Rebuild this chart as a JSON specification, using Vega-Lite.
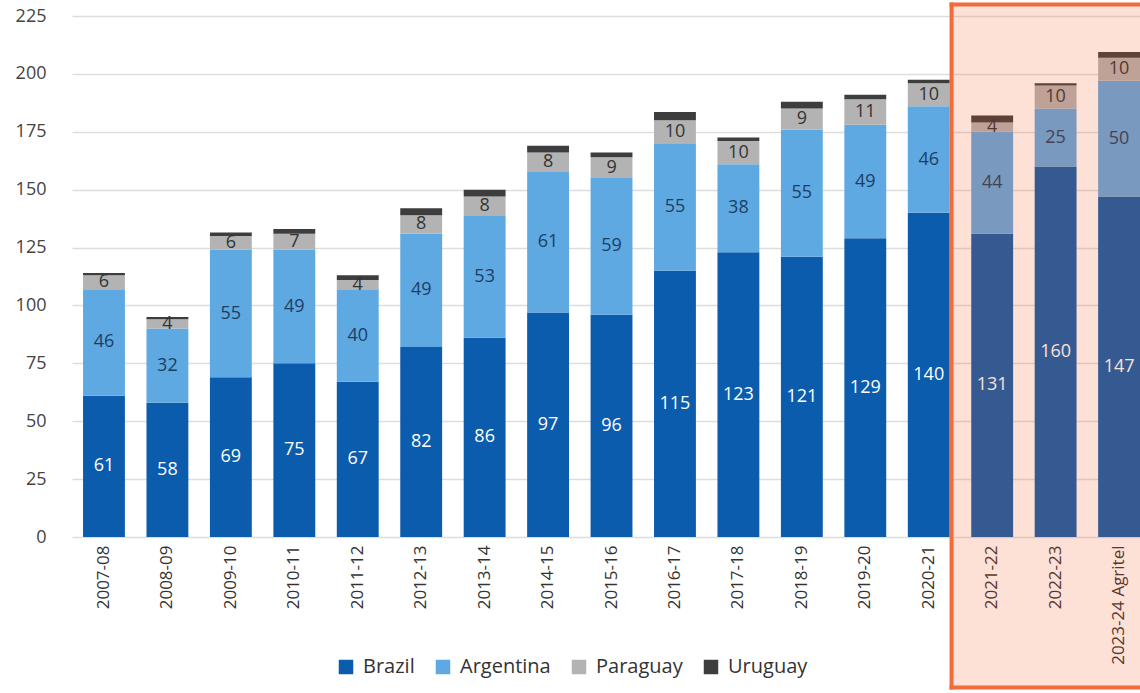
{
  "$schema": "https://vega.github.io/schema/vega-lite/v6.json",
  "width": 1068,
  "height": 521,
  "autosize": {"type": "none"},
  "padding": {"left": 72, "top": 16, "right": 0, "bottom": 156},
  "background": "white",
  "config": {
    "view": {"stroke": null},
    "font": "Open Sans",
    "axis": {"labelFont": "Open Sans", "domain": false, "ticks": false, "title": null}
  },
  "layer": [
    {
      "data": {
        "values": [
          {"season": "2007-08", "Brazil": 61, "Argentina": 46, "Paraguay": 6, "Uruguay": 1},
          {"season": "2008-09", "Brazil": 58, "Argentina": 32, "Paraguay": 4, "Uruguay": 1},
          {"season": "2009-10", "Brazil": 69, "Argentina": 55, "Paraguay": 6, "Uruguay": 1.5},
          {"season": "2010-11", "Brazil": 75, "Argentina": 49, "Paraguay": 7, "Uruguay": 2},
          {"season": "2011-12", "Brazil": 67, "Argentina": 40, "Paraguay": 4, "Uruguay": 2},
          {"season": "2012-13", "Brazil": 82, "Argentina": 49, "Paraguay": 8, "Uruguay": 3},
          {"season": "2013-14", "Brazil": 86, "Argentina": 53, "Paraguay": 8, "Uruguay": 3},
          {"season": "2014-15", "Brazil": 97, "Argentina": 61, "Paraguay": 8, "Uruguay": 3},
          {"season": "2015-16", "Brazil": 96, "Argentina": 59, "Paraguay": 9, "Uruguay": 2},
          {"season": "2016-17", "Brazil": 115, "Argentina": 55, "Paraguay": 10, "Uruguay": 3.5},
          {"season": "2017-18", "Brazil": 123, "Argentina": 38, "Paraguay": 10, "Uruguay": 1.5},
          {"season": "2018-19", "Brazil": 121, "Argentina": 55, "Paraguay": 9, "Uruguay": 3},
          {"season": "2019-20", "Brazil": 129, "Argentina": 49, "Paraguay": 11, "Uruguay": 2},
          {"season": "2020-21", "Brazil": 140, "Argentina": 46, "Paraguay": 10, "Uruguay": 1.5},
          {"season": "2021-22", "Brazil": 131, "Argentina": 44, "Paraguay": 4, "Uruguay": 3},
          {"season": "2022-23", "Brazil": 160, "Argentina": 25, "Paraguay": 10, "Uruguay": 1},
          {"season": "2023-24 Agritel", "Brazil": 147, "Argentina": 50, "Paraguay": 10, "Uruguay": 2.5}
        ]
      },
      "transform": [
        {"fold": ["Brazil", "Argentina", "Paraguay", "Uruguay"], "as": ["country", "value"]},
        {"stack": "value", "groupby": ["season"], "as": ["v0", "v1"]},
        {"calculate": "(datum.v0 + datum.v1) / 2", "as": "mid"}
      ],
      "layer": [
        {
          "mark": {"type": "bar"},
          "encoding": {
            "x": {
              "field": "season", "type": "nominal", "sort": null,
              "scale": {"paddingInner": 0.34, "paddingOuter": 0.087, "align": 1},
              "axis": {"labelAngle": -90, "labelFontSize": 17, "labelColor": "#333333", "labelPadding": 8}
            },
            "y": {
              "field": "v0", "type": "quantitative",
              "scale": {"domain": [0, 225], "nice": false},
              "axis": {
                "values": [0, 25, 50, 75, 100, 125, 150, 175, 200, 225],
                "grid": true, "gridColor": "#dddddd", "gridWidth": 1.5,
                "labelFontSize": 18, "labelColor": "#444444", "labelPadding": 26
              }
            },
            "y2": {"field": "v1"},
            "color": {
              "field": "country", "type": "nominal",
              "sort": ["Brazil", "Argentina", "Paraguay", "Uruguay"],
              "scale": {
                "domain": ["Brazil", "Argentina", "Paraguay", "Uruguay"],
                "range": ["#0b5cad", "#5ea9e2", "#b3b3b3", "#3d3d3d"]
              },
              "legend": {
                "title": null, "orient": "none", "direction": "horizontal",
                "legendX": 264, "legendY": 641,
                "symbolType": "square", "symbolSize": 210, "symbolStrokeWidth": 0,
                "labelFontSize": 20, "labelColor": "#333333", "labelFont": "Open Sans",
                "columnPadding": 18, "labelOffset": 7
              }
            }
          }
        },
        {
          "transform": [{"filter": "datum.country !== 'Uruguay'"}],
          "mark": {"type": "text", "fontSize": 18, "font": "Open Sans", "baseline": "middle", "align": "center"},
          "encoding": {
            "x": {"field": "season", "type": "nominal", "sort": null},
            "y": {"field": "mid", "type": "quantitative"},
            "text": {"field": "value", "type": "quantitative"},
            "color": {
              "condition": [
                {"test": "datum.country === 'Brazil'", "value": "#ffffff"},
                {"test": "datum.country === 'Argentina'", "value": "#1d3e62"}
              ],
              "value": "#333333"
            }
          }
        }
      ]
    },
    {
      "data": {"values": [{}]},
      "mark": {"type": "rect", "fill": "#f4511e", "fillOpacity": 0.18, "clip": false},
      "encoding": {
        "x": {"datum": "2021-22", "type": "nominal", "bandPosition": -0.47},
        "x2": {"value": "width"},
        "y": {"datum": 230, "type": "quantitative"},
        "y2": {"datum": -65}
      }
    },
    {
      "data": {"values": [{}]},
      "mark": {"type": "rule", "stroke": "#f26b3a", "strokeWidth": 4, "strokeCap": "square", "clip": false},
      "encoding": {
        "x": {"datum": "2021-22", "type": "nominal", "bandPosition": -0.47},
        "y": {"datum": 230, "type": "quantitative"},
        "y2": {"datum": -65}
      }
    },
    {
      "data": {"values": [{}]},
      "mark": {"type": "rule", "stroke": "#f26b3a", "strokeWidth": 4, "strokeCap": "square", "clip": false},
      "encoding": {
        "x": {"datum": "2021-22", "type": "nominal", "bandPosition": -0.47},
        "x2": {"value": "width"},
        "y": {"datum": 230, "type": "quantitative"}
      }
    },
    {
      "data": {"values": [{}]},
      "mark": {"type": "rule", "stroke": "#f26b3a", "strokeWidth": 4, "strokeCap": "square", "clip": false},
      "encoding": {
        "x": {"datum": "2021-22", "type": "nominal", "bandPosition": -0.47},
        "x2": {"value": "width"},
        "y": {"datum": -65, "type": "quantitative"}
      }
    }
  ]
}
